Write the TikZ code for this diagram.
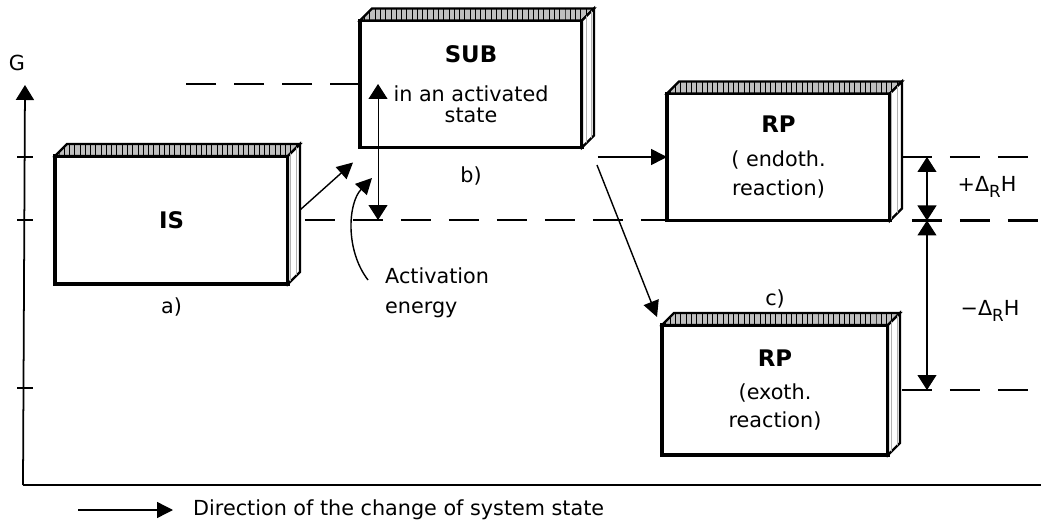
\documentclass[tikz,border=0pt]{standalone}
\usepackage{fontspec}
\setmainfont{DejaVu Sans}
\usetikzlibrary{positioning,calc,arrows.meta,patterns}
\newcommand{\boxtitle}[1]{{\fontsize{13}{15}\selectfont\bfseries #1}}
\newcommand{\subR}{\raisebox{-0.5ex}{\fontsize{9.5}{9.5}\selectfont R}}

\begin{document}
\begin{tikzpicture}[x=0.02cm, y=-0.02cm, font=\fontsize{11.8}{14.5}\selectfont,
  box/.style={draw, line width=1.9pt, fill=white, outer sep=0pt, align=center},
  topf/.style={draw, line width=1.3pt, fill=gray!50, postaction={pattern=vertical lines, pattern color=black}},
  sidef/.style={draw, line width=1.3pt, fill=white, postaction={pattern=vertical lines, pattern color=gray!60}},
  lvl/.style={line width=1.4pt, dash pattern=on 0.6cm off 0.36cm},
  arr/.style={line width=0.8pt, -{Triangle[length=0.32cm, width=0.32cm]}},
  dim/.style={line width=0.6pt, {Triangle[length=0.3cm, width=0.38cm]}-{Triangle[length=0.3cm, width=0.38cm]}}]

\useasboundingbox (0,0) rectangle (1041,530);

% states
\node[box, minimum width=4.66cm, minimum height=2.56cm] (IS) at (171.5,220) {\boxtitle{IS}};
\node[box, minimum width=4.44cm, minimum height=2.54cm] (SUB) at (471,84)
  {\boxtitle{SUB}\\[8pt] in an activated\\[-2.6pt] state};
\node[box, minimum width=4.46cm, minimum height=2.54cm] (RPen) at (778.5,157)
  {\boxtitle{RP}\\[5.3pt] ( endoth.\\[1.9pt] reaction)};
\node[box, minimum width=4.52cm, minimum height=2.6cm] (RPex) at (775,390)
  {\boxtitle{RP}\\[4.7pt] (exoth.\\[1.3pt] reaction)};

% depth of the blocks
\foreach \b in {IS,SUB,RPen,RPex} {
  \path[topf] (\b.north west) -- ++(12,-12) -- ($(\b.north east)+(12,-12)$) -- (\b.north east) -- cycle;
  \path[sidef] (\b.north east) -- ++(12,-12) -- ($(\b.south east)+(12,-12)$) -- (\b.south east) -- cycle;
}

\node[below=0.16cm of IS] (la) {a)};
\node[below=0.27cm of SUB] (lb) {b)};
\node[above=0.22cm of RPex] (lc) {c)};

% axes
\coordinate (O) at (23,485);
\coordinate (Gtip) at (25,85);
\coordinate (Xend) at (1041,485);
\draw[line width=1pt, -{Triangle[length=0.3cm, width=0.36cm]}] (O) -- (Gtip);
\draw[line width=1.5pt] (O) -- (Xend);
\node (G) at (17,63) {G};
\foreach \y in {157,220,388} \draw[line width=1pt] (17,\y) -- (33,\y);

% levels
\draw[lvl] (SUB.west) -- ++(-188,0);
\draw[lvl] ($(IS.east)+(17,0)$) -- (IS.east -| RPen.west);
\draw[lvl] ($(RPen.east)+(12,0)$) -- ++(139,0);
\draw[lvl] ($(RPen.south east)+(22,0)$) -- ++(129,0);
\draw[lvl] ($(RPex.east)+(14,0)$) -- ++(141,0);

% transitions
\draw[arr] ($(IS.east)+(12,-10)$) -- ($(SUB.south west)+(-7,15)$);
\draw[arr] ($(RPen.west -| SUB.east)+(16,0)$) -- (RPen.west);
\draw[arr] ($(RPen.west -| SUB.east)+(15,8)$) -- ($(RPex.north west)+(-5,-8)$);

% activation energy
\coordinate (ea) at ($(SUB.west)+(18,0)$);
\draw[dim] (ea) -- (ea |- IS.east);
\node[anchor=north west, align=left] (act) at (379,262) {Activation\\[2.4pt]energy};
\coordinate (acttip) at (372,178);
\draw[arr] ($(act.north west)+(-11,18)$) .. controls (345,250) and (348,203) .. (acttip);

% reaction enthalpy
\coordinate (dt) at ($(RPen.east)+(37,0)$);
\draw[dim] (dt) -- (dt |- RPen.south);
\draw[dim] (dt |- RPen.south) -- (dt |- RPex.east);
\node (dHp) at (987,187) {+Δ\subR H};
\node (dHm) at (990,311) {−Δ\subR H};

% direction
\node[anchor=west] (dir) at (187,510) {Direction of the change of system state};
\coordinate (dirs) at (78,510);
\draw[arr, shorten >=0.28cm] (dirs) -- (dir.west);
\end{tikzpicture}
\end{document}
